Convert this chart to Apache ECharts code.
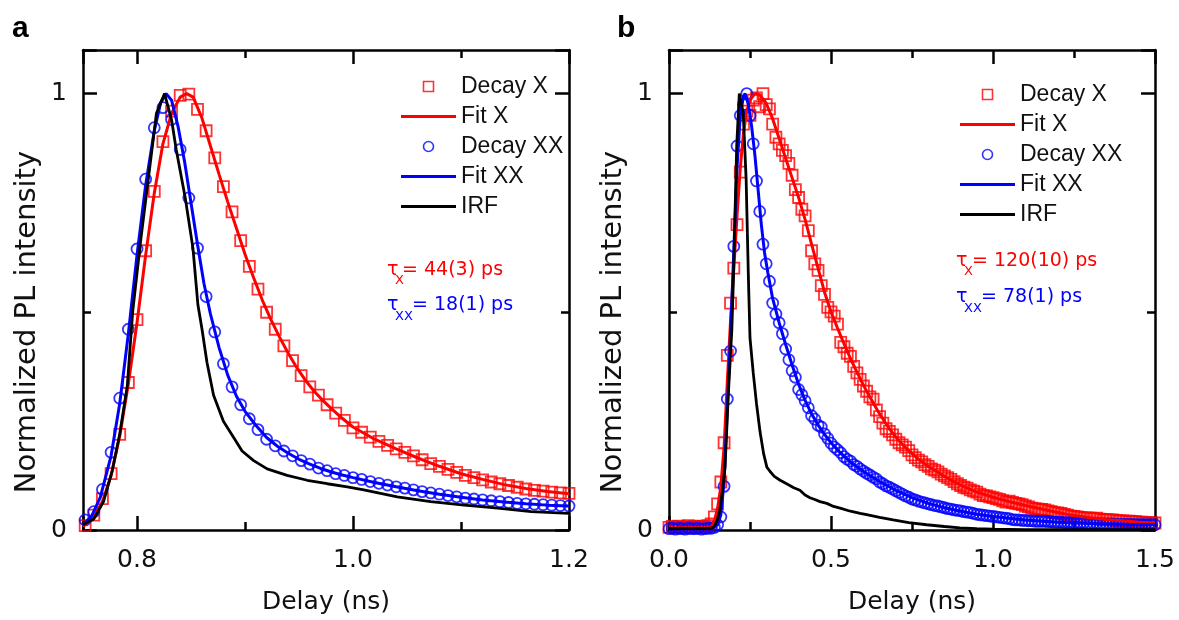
<!DOCTYPE html>
<html><head><meta charset="utf-8">
<script src="https://cdn.jsdelivr.net/npm/echarts@6/dist/echarts.min.js"></script>
<style>html,body{margin:0;padding:0;background:#fff}#c{width:1179px;height:620px}</style>
</head><body><div id="c"></div><script>
// ---------- Panel a data ----------
const xRangeA = [0.75, 1.2];
const xStepA = 0.2;
const tA = [0.752,0.760,0.768,0.776,0.784,0.792,0.800,0.808,0.816,0.824,
  0.832,0.840,0.848,0.856,0.864,0.872,0.880,0.888,0.896,0.904,
  0.912,0.920,0.928,0.936,0.944,0.952,0.960,0.968,0.976,0.984,
  0.992,1.000,1.008,1.016,1.024,1.032,1.040,1.048,1.056,1.064,
  1.072,1.080,1.088,1.096,1.104,1.112,1.120,1.128,1.136,1.144,
  1.152,1.160,1.168,1.176,1.184,1.192,1.200];
const decayXa = [0.010,0.034,0.072,0.129,0.219,0.338,0.482,0.640,0.776,0.890,
  0.960,0.996,0.999,0.964,0.915,0.853,0.787,0.729,0.663,0.604,
  0.552,0.499,0.460,0.422,0.388,0.354,0.328,0.309,0.287,0.268,
  0.251,0.234,0.224,0.213,0.203,0.194,0.186,0.178,0.170,0.161,
  0.152,0.146,0.139,0.132,0.125,0.120,0.115,0.110,0.106,0.102,
  0.098,0.094,0.091,0.089,0.087,0.085,0.084];
const decayXXa = [0.023,0.042,0.093,0.178,0.302,0.460,0.644,0.804,0.922,0.968,
  0.941,0.872,0.761,0.646,0.535,0.454,0.381,0.328,0.287,0.255,
  0.230,0.208,0.193,0.181,0.170,0.159,0.151,0.142,0.136,0.129,
  0.125,0.120,0.116,0.111,0.107,0.103,0.099,0.096,0.092,0.088,
  0.085,0.082,0.079,0.076,0.073,0.071,0.069,0.067,0.065,0.063,
  0.061,0.060,0.059,0.058,0.057,0.056,0.055];
const fitXa = [[0.750,0.008],[0.760,0.030],[0.768,0.065],[0.776,0.125],[0.784,0.215],[0.792,0.335],
  [0.800,0.475],[0.808,0.630],[0.816,0.772],[0.824,0.885],[0.832,0.955],[0.840,0.992],[0.846,1.000],
  [0.852,0.992],[0.860,0.945],[0.868,0.880],[0.876,0.815],[0.884,0.752],[0.892,0.692],[0.900,0.632],
  [0.908,0.578],[0.916,0.527],[0.924,0.482],[0.932,0.442],[0.940,0.405],[0.948,0.372],[0.956,0.343],
  [0.964,0.318],[0.972,0.297],[0.980,0.278],[0.990,0.256],[1.000,0.236],[1.020,0.208],[1.040,0.186],
  [1.060,0.165],[1.080,0.146],[1.100,0.129],[1.120,0.116],[1.140,0.104],[1.160,0.095],[1.180,0.088],[1.200,0.083]];
const fitXXa = [[0.750,0.012],[0.758,0.032],[0.766,0.075],[0.776,0.170],[0.784,0.290],[0.792,0.450],
  [0.800,0.630],[0.808,0.790],[0.816,0.915],[0.822,0.980],[0.827,1.000],[0.832,0.985],[0.838,0.925],
  [0.844,0.845],[0.850,0.750],[0.856,0.655],[0.862,0.565],[0.868,0.495],[0.876,0.418],[0.884,0.355],
  [0.892,0.307],[0.900,0.272],[0.910,0.240],[0.920,0.212],[0.930,0.192],[0.940,0.176],[0.950,0.162],
  [0.960,0.151],[0.970,0.141],[0.980,0.133],[0.990,0.126],[1.000,0.120],[1.020,0.109],[1.040,0.099],
  [1.060,0.090],[1.080,0.082],[1.100,0.075],[1.120,0.069],[1.140,0.064],[1.160,0.060],[1.180,0.057],[1.200,0.055]];
const irfA = [[0.750,0.012],[0.760,0.025],[0.769,0.065],[0.777,0.135],[0.784,0.220],[0.791,0.330],
  [0.796,0.500],[0.803,0.655],[0.810,0.795],[0.818,0.955],[0.8255,1.000],[0.832,0.940],[0.8363,0.872],
  [0.8447,0.761],[0.8518,0.646],[0.8564,0.516],[0.8602,0.460],[0.8648,0.384],[0.8709,0.309],[0.880,0.249],
  [0.8895,0.212],[0.8973,0.181],[0.908,0.159],[0.9205,0.140],[0.939,0.125],[0.9576,0.114],[0.9762,0.106],
  [0.9947,0.099],[1.010,0.092],[1.041,0.076],[1.072,0.065],[1.103,0.057],[1.134,0.050],[1.165,0.042],[1.200,0.038]];

// ---------- Panel b data ----------
const xRangeB = [0, 1.5];
const xStepB = 0.5;
const tB = [0.00,0.01,0.02,0.03,0.04,0.05,0.06,0.07,0.08,0.09,
  0.10,0.11,0.12,0.13,0.14,0.15,0.16,0.17,0.18,0.19,
  0.20,0.21,0.22,0.23,0.24,0.25,0.26,0.27,0.28,0.29,
  0.30,0.31,0.32,0.33,0.34,0.35,0.36,0.37,0.38,0.39,
  0.40,0.41,0.42,0.43,0.44,0.45,0.46,0.47,0.48,0.49,
  0.50,0.51,0.52,0.53,0.54,0.55,0.56,0.57,0.58,0.59,
  0.60,0.61,0.62,0.63,0.64,0.65,0.66,0.67,0.68,0.69,
  0.70,0.71,0.72,0.73,0.74,0.75,0.76,0.77,0.78,0.79,
  0.80,0.81,0.82,0.83,0.84,0.85,0.86,0.87,0.88,0.89,
  0.90,0.91,0.92,0.93,0.94,0.95,0.96,0.97,0.98,0.99,
  1.00,1.01,1.02,1.03,1.04,1.05,1.06,1.07,1.08,1.09,
  1.10,1.11,1.12,1.13,1.14,1.15,1.16,1.17,1.18,1.19,
  1.20,1.21,1.22,1.23,1.24,1.25,1.26,1.27,1.28,1.29,
  1.30,1.31,1.32,1.33,1.34,1.35,1.36,1.37,1.38,1.39,
  1.40,1.41,1.42,1.43,1.44,1.45,1.46,1.47,1.48,1.49,
  1.50];
const decayXb = [0.006,0.008,0.005,0.009,0.006,0.007,0.010,0.006,0.008,0.007,
  0.009,0.006,0.010,0.014,0.030,0.060,0.110,0.200,0.400,0.520,
  0.600,0.700,0.820,0.930,0.960,0.950,0.985,0.990,0.970,1.000,
  0.975,0.965,0.930,0.900,0.885,0.870,0.858,0.840,0.813,0.780,
  0.762,0.735,0.720,0.686,0.640,0.610,0.595,0.560,0.540,0.510,
  0.500,0.490,0.472,0.430,0.420,0.405,0.398,0.375,0.360,0.345,
  0.330,0.318,0.305,0.300,0.275,0.260,0.245,0.232,0.226,0.218,
  0.208,0.200,0.195,0.190,0.182,0.172,0.166,0.160,0.156,0.150,
  0.146,0.140,0.137,0.133,0.128,0.124,0.120,0.116,0.111,0.106,
  0.102,0.098,0.096,0.092,0.089,0.087,0.082,0.079,0.078,0.076,
  0.074,0.072,0.070,0.067,0.064,0.066,0.063,0.061,0.060,0.058,
  0.055,0.053,0.050,0.049,0.048,0.047,0.046,0.044,0.042,0.040,
  0.039,0.038,0.036,0.034,0.032,0.031,0.030,0.029,0.028,0.028,
  0.027,0.026,0.027,0.025,0.024,0.024,0.023,0.023,0.022,0.021,
  0.021,0.020,0.020,0.019,0.019,0.018,0.018,0.017,0.017,0.016,
  0.016];
const decayXXb = [0.003,0.004,0.002,0.004,0.003,0.002,0.004,0.003,0.003,0.004,
  0.002,0.003,0.004,0.004,0.006,0.012,0.030,0.100,0.300,0.410,
  0.650,0.880,0.950,0.975,1.000,0.950,0.885,0.800,0.730,0.655,
  0.610,0.570,0.520,0.495,0.475,0.450,0.415,0.390,0.365,0.350,
  0.322,0.310,0.296,0.280,0.262,0.254,0.240,0.236,0.220,0.210,
  0.199,0.190,0.184,0.177,0.168,0.162,0.158,0.150,0.146,0.140,
  0.135,0.130,0.126,0.121,0.117,0.110,0.106,0.101,0.098,0.094,
  0.090,0.086,0.082,0.078,0.075,0.071,0.069,0.066,0.064,0.062,
  0.060,0.058,0.056,0.055,0.053,0.051,0.049,0.048,0.046,0.045,
  0.044,0.042,0.041,0.040,0.038,0.036,0.035,0.034,0.033,0.032,
  0.031,0.030,0.029,0.028,0.027,0.026,0.024,0.023,0.023,0.022,
  0.022,0.021,0.021,0.020,0.020,0.020,0.020,0.019,0.019,0.018,
  0.018,0.018,0.017,0.017,0.017,0.016,0.016,0.016,0.016,0.015,
  0.015,0.015,0.015,0.014,0.014,0.014,0.014,0.014,0.013,0.013,
  0.013,0.013,0.013,0.013,0.012,0.012,0.012,0.012,0.012,0.012,
  0.012];
const fitXb = [[0.00,0.005],[0.13,0.006],[0.14,0.020],[0.15,0.050],[0.16,0.100],[0.17,0.190],[0.18,0.340],
  [0.19,0.480],[0.20,0.600],[0.21,0.720],[0.22,0.830],[0.23,0.910],[0.24,0.960],[0.25,0.985],[0.265,1.000],
  [0.28,0.997],[0.30,0.978],[0.32,0.942],[0.34,0.897],[0.36,0.852],[0.38,0.807],[0.40,0.762],[0.42,0.712],
  [0.44,0.655],[0.46,0.600],[0.48,0.545],[0.50,0.500],[0.52,0.463],[0.54,0.427],[0.56,0.393],[0.58,0.362],
  [0.60,0.332],[0.62,0.305],[0.65,0.266],[0.68,0.232],[0.71,0.204],[0.74,0.182],[0.77,0.162],[0.80,0.146],
  [0.85,0.123],[0.90,0.103],[0.95,0.087],[1.00,0.075],[1.05,0.065],[1.10,0.056],[1.15,0.048],[1.20,0.040],
  [1.25,0.033],[1.30,0.028],[1.35,0.024],[1.40,0.021],[1.45,0.018],[1.50,0.016]];
const fitXXb = [[0.00,0.003],[0.13,0.003],[0.15,0.012],[0.16,0.035],[0.17,0.110],[0.18,0.280],[0.19,0.450],
  [0.20,0.640],[0.21,0.830],[0.22,0.950],[0.23,0.995],[0.235,1.000],[0.245,0.975],[0.255,0.925],[0.265,0.860],
  [0.275,0.780],[0.285,0.700],[0.295,0.635],[0.305,0.590],[0.32,0.530],[0.34,0.475],[0.36,0.425],[0.38,0.378],
  [0.40,0.334],[0.42,0.297],[0.44,0.266],[0.46,0.241],[0.48,0.219],[0.50,0.200],[0.53,0.176],[0.56,0.156],
  [0.60,0.134],[0.65,0.111],[0.70,0.091],[0.75,0.074],[0.80,0.061],[0.85,0.051],[0.90,0.043],[0.95,0.036],
  [1.00,0.031],[1.10,0.023],[1.20,0.018],[1.30,0.015],[1.40,0.013],[1.50,0.012]];
const irfB = [[0.00,0.003],[0.05,0.003],[0.10,0.003],[0.13,0.004],[0.14,0.008],[0.15,0.025],[0.157,0.046],
  [0.165,0.090],[0.173,0.144],[0.183,0.309],[0.194,0.460],[0.199,0.580],[0.209,0.881],[0.217,1.000],
  [0.229,0.956],[0.238,0.806],[0.245,0.580],[0.250,0.440],[0.260,0.360],[0.270,0.290],[0.281,0.225],
  [0.292,0.175],[0.302,0.144],[0.312,0.134],[0.325,0.123],[0.343,0.114],[0.363,0.106],[0.385,0.097],
  [0.404,0.091],[0.420,0.080],[0.435,0.074],[0.450,0.070],[0.466,0.065],[0.487,0.061],[0.508,0.054],
  [0.528,0.050],[0.560,0.043],[0.590,0.038],[0.610,0.035],[0.650,0.029],[0.692,0.023],[0.740,0.017],
  [0.795,0.012],[0.850,0.008],[0.898,0.005],[0.950,0.003],[1.000,0.002],[1.100,0.001],[1.200,0.001],
  [1.300,0.001],[1.400,0.001],[1.500,0.001]];

const yRange = [0, 1.1];
const yStep = 1;
const xName = 'Delay (ns)';
const yName = 'Normalized PL intensity';
const legendNames = ['Decay X', 'Fit X', 'Decay XX', 'Fit XX', 'IRF'];
const tauA = ['= 44(3) ps', '= 18(1) ps'];
const tauB = ['= 120(10) ps', '= 78(1) ps'];

// ---------- chart ----------
const RED = '#ff0000', BLUE = '#0000ff', BLACK = '#000000', TXT = '#111111';
const zip = (t, v) => t.map((x, i) => [x, v[i]]);
const axLine = {color: '#000', width: 2.5};
const tickFont = {fontFamily: 'DejaVu Sans', fontSize: 25, color: TXT};

function axis(extra) {
  return Object.assign({
    type: 'value',
    axisLine: {show: true, onZero: false, lineStyle: axLine},
    axisTick: {show: true, inside: true, length: 14, lineStyle: axLine},
    minorTick: {show: true, splitNumber: 2, length: 8, lineStyle: axLine},
    splitLine: {show: false}, minorSplitLine: {show: false},
    axisLabel: {show: false}, silent: true
  }, extra);
}
const xLbl = {show: true, ...tickFont, margin: 18, formatter: v => v.toFixed(1)};
const xNm = {name: xName, nameLocation: 'middle', nameGap: 60,
  nameTextStyle: {fontFamily: 'DejaVu Sans', fontSize: 25, color: TXT}};
const yNm = {name: yName, nameLocation: 'middle', nameRotate: 90, nameGap: 41,
  nameTextStyle: {fontFamily: 'DejaVu Sans', fontSize: 29, color: TXT, padding: [0, 64, 0, 0]}};
const yLbl = {show: true, ...tickFont, margin: 16, showMaxLabel: false, formatter: v => String(Math.round(v))};

const xa = {min: xRangeA[0], max: xRangeA[1], minInterval: xStepA, maxInterval: xStepA};
const xb = {min: xRangeB[0], max: xRangeB[1], interval: xStepB};
const yy = {min: yRange[0], max: yRange[1], interval: yStep};

function panelSeries(xi, yi, dX, fX, dXX, fXX, irf) {
  return [
    {name: legendNames[0], type: 'scatter', xAxisIndex: xi, yAxisIndex: yi, data: dX,
      symbol: 'rect', symbolSize: 11, itemStyle: {color: 'rgba(0,0,0,0)', borderColor: RED, borderWidth: 1.8}},
    {name: legendNames[1], type: 'line', xAxisIndex: xi, yAxisIndex: yi, data: fX, symbol: 'none',
      lineStyle: {color: RED, width: 3}, itemStyle: {color: RED}},
    {name: legendNames[2], type: 'scatter', xAxisIndex: xi, yAxisIndex: yi, data: dXX,
      symbol: 'circle', symbolSize: 11, itemStyle: {color: 'rgba(0,0,0,0)', borderColor: BLUE, borderWidth: 1.8}},
    {name: legendNames[3], type: 'line', xAxisIndex: xi, yAxisIndex: yi, data: fXX, symbol: 'none',
      lineStyle: {color: BLUE, width: 3}, itemStyle: {color: BLUE}},
    {name: legendNames[4], type: 'line', xAxisIndex: xi, yAxisIndex: yi, data: irf, symbol: 'none',
      lineStyle: {color: BLACK, width: 2.8}, itemStyle: {color: BLACK}}
  ];
}

const lineIcon = 'path://M0,0H110V6H0Z';
const legendData = [
  {name: legendNames[0], icon: 'path://M0,0H10V10H0Z', itemStyle: {color: '#fff', borderColor: RED, borderWidth: 1.6}},
  {name: legendNames[1], icon: lineIcon, itemStyle: {color: RED, borderWidth: 0}},
  {name: legendNames[2], icon: 'circle', itemStyle: {color: '#fff', borderColor: BLUE, borderWidth: 1.6}},
  {name: legendNames[3], icon: lineIcon, itemStyle: {color: BLUE, borderWidth: 0}},
  {name: legendNames[4], icon: lineIcon, itemStyle: {color: BLACK, borderWidth: 0}}
];
function legend(left, top) {
  return {left, top, orient: 'vertical', itemWidth: 55, itemHeight: 10, itemGap: 7, itemTextGap: 5,
    selectedMode: false, data: legendData,
    textStyle: {fontFamily: 'Liberation Sans', fontSize: 23, color: TXT}};
}

function txt(x, y, s, size, color, family, weight) {
  return {type: 'text', x, y, silent: true, style: {text: s, fill: color,
    font: (weight || 'normal') + ' ' + size + 'px "' + family + '"',
    textAlign: 'left', textVerticalAlign: 'middle', align: 'left', verticalAlign: 'middle'}};
}
function tau(x, y1, y2, restX1, restX2, strs) {
  return [
    txt(x, y1, 'τ', 19, RED, 'DejaVu Sans'), txt(x + 8, y1 + 11, 'X', 13, RED, 'DejaVu Sans'),
    txt(restX1, y1, strs[0], 19, RED, 'DejaVu Sans'),
    txt(x, y2, 'τ', 19, BLUE, 'DejaVu Sans'), txt(x + 8, y2 + 12, 'XX', 13, BLUE, 'DejaVu Sans'),
    txt(restX2, y2, strs[1], 19, BLUE, 'DejaVu Sans')
  ];
}

const chart = echarts.init(document.getElementById('c'), null, {renderer: 'canvas'});
chart.setOption({
  animation: false,
  backgroundColor: '#fff',
  textStyle: {fontFamily: 'DejaVu Sans'},
  grid: [
    {left: 83, right: 610, top: 50, bottom: 83, containLabel: false},
    {left: 669, right: 24, top: 50, bottom: 83, containLabel: false}
  ],
  xAxis: [
    axis({gridIndex: 0, position: 'bottom', ...xa, axisLabel: {...xLbl, showMinLabel: false}, ...xNm}),
    axis({gridIndex: 0, position: 'top', ...xa}),
    axis({gridIndex: 1, position: 'bottom', ...xb, axisLabel: xLbl, ...xNm}),
    axis({gridIndex: 1, position: 'top', ...xb})
  ],
  yAxis: [
    axis({gridIndex: 0, position: 'left', ...yy, axisLabel: yLbl, ...yNm}),
    axis({gridIndex: 0, position: 'right', ...yy}),
    axis({gridIndex: 1, position: 'left', ...yy, axisLabel: yLbl, ...yNm}),
    axis({gridIndex: 1, position: 'right', ...yy})
  ],
  legend: [legend(396, 70), legend(955, 78)],
  series: [
    ...panelSeries(0, 0, zip(tA, decayXa), fitXa, zip(tA, decayXXa), fitXXa, irfA),
    ...panelSeries(2, 2, zip(tB, decayXb), fitXb, zip(tB, decayXXb), fitXXb, irfB)
  ],
  graphic: [
    txt(12, 29, 'a', 30, '#000', 'Liberation Sans', 'bold'),
    txt(617, 29, 'b', 30, '#000', 'Liberation Sans', 'bold'),
    ...tau(387, 270, 305, 402, 412, tauA),
    ...tau(956, 261, 297, 972, 981, tauB)
  ]
});
</script></body></html>
